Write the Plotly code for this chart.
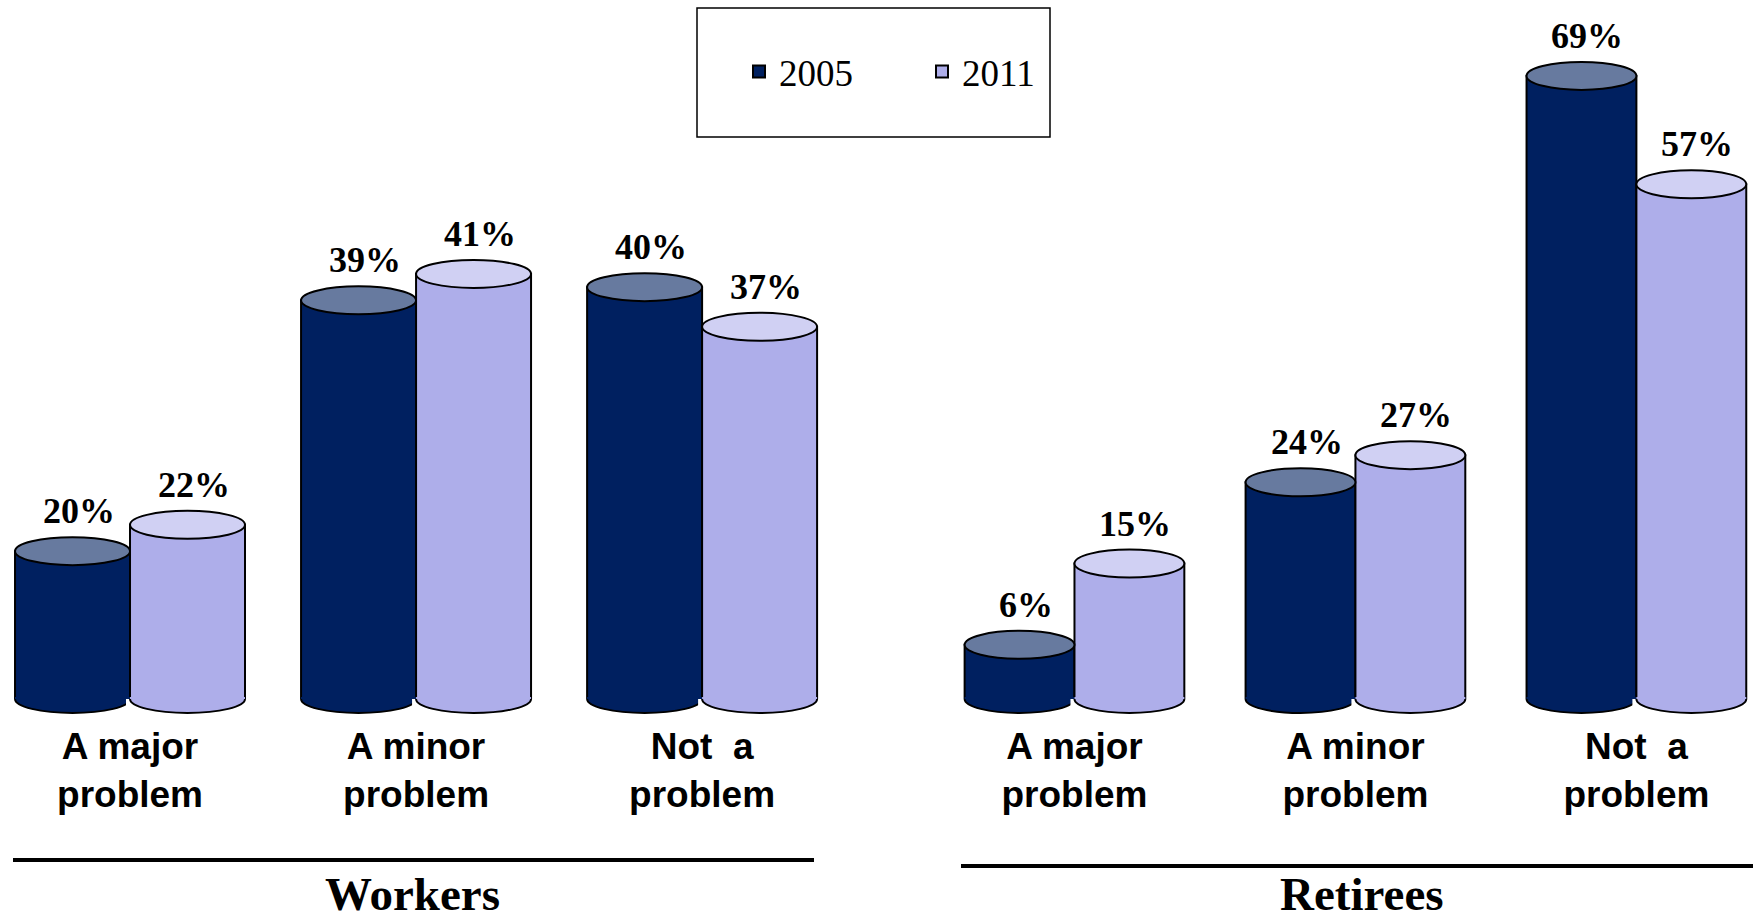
import plotly.graph_objects as go

# ---------------- data ----------------
categories = ["A major<br>problem", "A minor<br>problem", "Not\u00a0\u00a0a<br>problem"]
years = ["2005", "2011"]
workers_2005 = [20, 39, 40]
workers_2011 = [22, 41, 37]
retirees_2005 = [6, 24, 69]
retirees_2011 = [15, 27, 57]
group_names = ["Workers", "Retirees"]

# ---------------- style ----------------
W, H = 1753, 921
body_col = {"2005": "#002060", "2011": "#AEAEEA"}
top_col = {"2005": "#677A9F", "2011": "#D0D0F3"}
SERIF = "Liberation Serif, Times New Roman, serif"
SANS = "Liberation Sans, Arial, sans-serif"

ydom = [1 - 721 / H, 1.0]          # plot area from top to 22 px below baseline
ELL = 14                           # half height of cylinder ellipses (px)
K = 0.5523                         # bezier constant for ellipse quarter

panels = [
    dict(name="Workers", xa="x", ya="y", s2005=workers_2005, s2011=workers_2011,
         xdom=[0, 860 / W], xr=[-0.4545, 2.552], bw=0.402, base=8.8, pxper=13.2),
    dict(name="Retirees", xa="x2", ya="y2", s2005=retirees_2005, s2011=retirees_2011,
         xdom=[900 / W, 1.0], xr=[-0.621, 2.415], bw=0.391, base=0.0, pxper=9.03),
]

fig = go.Figure()
shapes = []
annotations = []

for pi, p in enumerate(panels):
    xs = list(range(len(categories)))
    for yi, (yr, vals) in enumerate(zip(years, [p["s2005"], p["s2011"]])):
        off = -p["bw"] if yi == 0 else 0.0
        fig.add_trace(go.Bar(
            x=xs, y=vals, name=yr, xaxis=p["xa"], yaxis=p["ya"],
            width=p["bw"], offset=off,
            marker=dict(color=body_col[yr], line=dict(color="black", width=2)),
            showlegend=(pi == 0), legendgroup=yr,
            hovertemplate=p["name"] + " %{x}<br>" + yr + ": %{y}%<extra></extra>",
        ))
        xunit_px = (p["xdom"][1] - p["xdom"][0]) * W / (p["xr"][1] - p["xr"][0])
        pad = 4 / xunit_px
        for ci, v in enumerate(vals):
            xl = ci + off
            xr_ = xl + p["bw"]
            xc = (xl + xr_) / 2
            a = p["bw"] / 2
            arc = (f"C {xl},{-K*ELL} {xc-K*a},{-ELL} {xc},{-ELL} "
                   f"C {xc+K*a},{-ELL} {xr_},{-K*ELL} {xr_},0")
            common = dict(xref=p["xa"], yref=p["ya"], ysizemode="pixel",
                          yanchor=p["base"], layer="above")
            # white cover outside the bottom arc
            shapes.append(dict(type="path", **common,
                               path=f"M {xl-pad},0 L {xl},0 {arc} L {xr_+pad},0 "
                                    f"L {xr_+pad},-40 L {xl-pad},-40 Z",
                               fillcolor="white", line=dict(width=0)))
            # body colour inside bottom half-ellipse (hides straight bottom edge)
            shapes.append(dict(type="path", **common,
                               path=f"M {xl},0 {arc} L {xr_},2 L {xl},2 Z",
                               fillcolor=body_col[yr], line=dict(width=0)))
            # bottom arc outline
            shapes.append(dict(type="path", **common,
                               path=f"M {xl},0 {arc}",
                               fillcolor="rgba(0,0,0,0)",
                               line=dict(color="black", width=2)))
            # top ellipse
            shapes.append(dict(type="circle", xref=p["xa"], yref=p["ya"],
                               ysizemode="pixel", yanchor=v, y0=-ELL, y1=ELL,
                               x0=xl, x1=xr_, layer="above",
                               fillcolor=top_col[yr],
                               line=dict(color="black", width=2)))
            # value label
            annotations.append(dict(x=xc, y=v, xref=p["xa"], yref=p["ya"],
                                    text=f"{v}%", showarrow=False,
                                    xanchor="center", yanchor="bottom",
                                    yshift=ELL + 4, xshift=6,
                                    font=dict(family=SERIF, size=36, color="black",
                                              weight="bold")))

# group divider lines and group titles
shapes.append(dict(type="line", xref="paper", yref="paper",
                   x0=13 / W, x1=814 / W, y0=1 - 860 / H, y1=1 - 860 / H,
                   line=dict(color="black", width=4)))
shapes.append(dict(type="line", xref="paper", yref="paper",
                   x0=961 / W, x1=1.0, y0=1 - 866 / H, y1=1 - 866 / H,
                   line=dict(color="black", width=4)))
for gname, gx in zip(group_names, [412 / W, 1362 / W]):
    annotations.append(dict(x=gx, y=0, xref="paper", yref="paper",
                            text=gname, showarrow=False, borderpad=0,
                            xanchor="center", yanchor="bottom",
                            font=dict(family=SERIF, size=47, color="black",
                                      weight="bold")))

# legend box
shapes.append(dict(type="rect", xref="paper", yref="paper",
                   x0=697 / W, x1=1050 / W, y0=1 - 137 / H, y1=1 - 8 / H,
                   line=dict(color="black", width=1.5), fillcolor="rgba(0,0,0,0)"))

axis_common = dict(showgrid=False, zeroline=False, showline=False, ticks="")
tickfont = dict(family=SANS, size=37, color="black", weight="bold")
fig.update_layout(
    width=W, height=H,
    margin=dict(l=0, r=0, t=0, b=0),
    paper_bgcolor="white", plot_bgcolor="white",
    barmode="overlay",
    shapes=shapes, annotations=annotations,
    showlegend=True,
    legend=dict(orientation="h", x=739 / W, xanchor="left", y=1 - 72 / H, yanchor="middle",
                font=dict(family=SERIF, size=37, color="black"),
                entrywidth=138, entrywidthmode="pixels",
                bgcolor="rgba(0,0,0,0)", borderwidth=0),
    xaxis=dict(domain=panels[0]["xdom"], range=panels[0]["xr"], anchor="y",
               tickvals=[0, 1, 2], ticktext=categories, tickfont=tickfont,
               **axis_common),
    xaxis2=dict(domain=panels[1]["xdom"], range=panels[1]["xr"], anchor="y2",
                tickvals=[0, 1, 2], ticktext=categories, tickfont=tickfont,
                **axis_common),
    yaxis=dict(domain=ydom, anchor="x", showticklabels=False,
               range=[panels[0]["base"] - 22 / panels[0]["pxper"],
                      panels[0]["base"] + 699 / panels[0]["pxper"]],
               **axis_common),
    yaxis2=dict(domain=ydom, anchor="x2", showticklabels=False,
                range=[panels[1]["base"] - 22 / panels[1]["pxper"],
                       panels[1]["base"] + 699 / panels[1]["pxper"]],
                **axis_common),
)

fig.write_html("out.html", config={"displayModeBar": False},
               post_script="document.body.style.margin='0';document.body.style.overflow='hidden';")
